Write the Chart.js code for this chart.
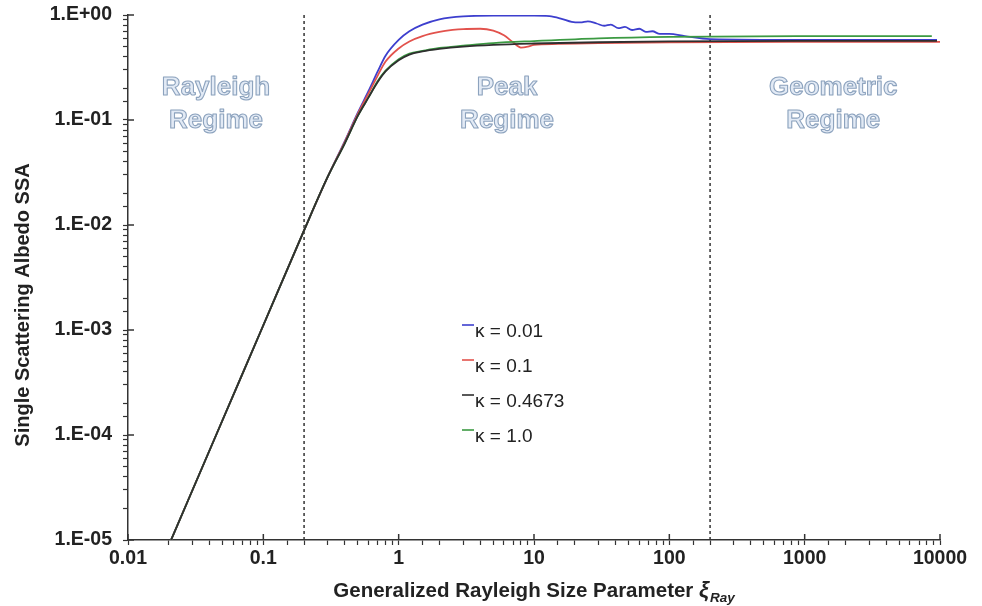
<!DOCTYPE html>
<html>
<head>
<meta charset="utf-8">
<script src="https://cdn.jsdelivr.net/npm/chart.js@4/dist/chart.umd.min.js"></script>
<style>
html,body{margin:0;padding:0;background:#fff;}
#wrap{width:982px;height:606px;position:relative;}
</style>
</head>
<body>
<div id="wrap"><canvas id="c" width="982" height="606"></canvas></div>
<script>
// ---- data ----
const xTickLabels = ['0.01','0.1','1','10','100','1000','10000'];
const yTickLabels = ['1.E-05','1.E-04','1.E-03','1.E-02','1.E-01','1.E+00'];
const regimeBounds = [0.2, 200];
const seriesLabels = ['\u03ba = 0.01','\u03ba = 0.1','\u03ba = 0.4673','\u03ba = 1.0'];
const yTitle = 'Single Scattering Albedo SSA';
const xTitle = 'Generalized Rayleigh Size Parameter ';

const xiK001 = [0.0208,0.05,0.1,0.2,0.3,0.4,0.5,0.6,0.7,0.8,1.0,1.2,1.5,2,3,5,10,13,16,19,22,25,29,33,37,42,47,53,60,67,75,85,100,130,200,1000,9500];
const ssaK001 = [1e-5,1.39e-4,1.11e-3,8.9e-3,0.029,0.063,0.118,0.19,0.29,0.41,0.58,0.70,0.81,0.91,0.97,0.985,0.985,0.975,0.92,0.86,0.85,0.87,0.83,0.79,0.81,0.75,0.77,0.72,0.74,0.69,0.70,0.66,0.66,0.63,0.59,0.58,0.58];

const xiK01 = [0.0208,0.05,0.1,0.2,0.3,0.4,0.5,0.6,0.7,0.8,1.0,1.2,1.5,2,2.5,3,4,5,6,7,8,9,10,15,30,100,1000,10000];
const ssaK01 = [1e-5,1.39e-4,1.11e-3,8.9e-3,0.029,0.062,0.115,0.18,0.265,0.36,0.48,0.56,0.63,0.69,0.72,0.735,0.74,0.71,0.64,0.55,0.49,0.50,0.52,0.53,0.54,0.55,0.555,0.555];

const xiK04673 = [0.0208,0.05,0.1,0.2,0.3,0.4,0.5,0.6,0.7,0.8,1.0,1.2,1.5,2,3,5,10,30,100,1000,9500];
const ssaK04673 = [1e-5,1.39e-4,1.11e-3,8.9e-3,0.029,0.06,0.11,0.165,0.23,0.29,0.37,0.42,0.45,0.475,0.50,0.52,0.535,0.55,0.56,0.567,0.567];

const xiK1 = [0.0208,0.05,0.1,0.2,0.3,0.4,0.5,0.6,0.7,0.8,1.0,1.2,1.5,2,3,5,10,30,100,1000,8700];
const ssaK1 = [1e-5,1.39e-4,1.11e-3,8.9e-3,0.029,0.06,0.11,0.165,0.235,0.295,0.38,0.43,0.455,0.485,0.51,0.54,0.565,0.60,0.62,0.63,0.63];

const colors = ['#3d3fce','#e2524c','#2f2f2f','#3b9a42'];

// ---- build datasets ----
const toPts = (xs, ys) => xs.map((x, i) => ({x: x, y: ys[i]}));
const seriesX = [xiK001, xiK01, xiK04673, xiK1];
const seriesY = [ssaK001, ssaK01, ssaK04673, ssaK1];
const datasets = [];
regimeBounds.forEach(b => {
  datasets.push({
    label: '_bound', data: [{x: b, y: 1e-5}, {x: b, y: 1}],
    borderColor: '#333', borderWidth: 1.5, borderDash: [3, 3],
    pointRadius: 0, fill: false, order: 10
  });
});
[2, 3, 1, 0].forEach(i => {
  datasets.push({
    label: seriesLabels[i], data: toPts(seriesX[i], seriesY[i]),
    borderColor: colors[i], backgroundColor: colors[i], borderWidth: 1.8,
    pointRadius: 0, fill: false, tension: 0.35, cubicInterpolationMode: 'monotone'
  });
});

const FONT = "'Liberation Sans', Arial, Helvetica, sans-serif";
const TICKFONT = 19.5;

function isPow10(v) {
  const l = Math.log10(v);
  return Math.abs(l - Math.round(l)) < 1e-9;
}

const overlay = {
  id: 'overlay',
  afterDatasetsDraw(chart) {
    const ctx = chart.ctx;
    const xs = chart.scales.x, ys = chart.scales.y;
    const ca = chart.chartArea;
    ctx.save();
    // major tick extensions into plot area
    ctx.strokeStyle = '#333'; ctx.lineWidth = 1.5;
    xTickLabels.forEach(t => {
      const px = xs.getPixelForValue(parseFloat(t));
      ctx.beginPath(); ctx.moveTo(px, ca.bottom); ctx.lineTo(px, ca.bottom - 6); ctx.stroke();
    });
    yTickLabels.forEach(t => {
      const v = Math.pow(10, parseInt(t.slice(3), 10));
      const py = ys.getPixelForValue(v);
      ctx.beginPath(); ctx.moveTo(ca.left, py); ctx.lineTo(ca.left + 6, py); ctx.stroke();
    });

    // regime labels
    const regimes = [
      {x: Math.sqrt(0.01 * regimeBounds[0]), l: ['Rayleigh', 'Regime']},
      {x: Math.sqrt(regimeBounds[0] * regimeBounds[1]), l: ['Peak', 'Regime']},
      {x: Math.sqrt(regimeBounds[1] * 10000) * 1.15, l: ['Geometric', 'Regime']}
    ];
    ctx.font = 'bold 26px ' + FONT;
    ctx.textAlign = 'center'; ctx.textBaseline = 'middle';
    ctx.lineJoin = 'round';
    regimes.forEach(r => {
      const px = xs.getPixelForValue(r.x);
      r.l.forEach((s, k) => {
        const py = ca.top + 73 + k * 33;
        ctx.fillStyle = '#e2eaf5';
        ctx.fillText(s, px, py);
        ctx.strokeStyle = '#8da3be'; ctx.lineWidth = 1.1;
        ctx.strokeText(s, px, py);
      });
    });

    // legend
    ctx.font = '19px ' + FONT;
    ctx.textAlign = 'left'; ctx.textBaseline = 'middle';
    const y0 = ys.getPixelForValue(1e-3);
    const y1 = ys.getPixelForValue(1e-4);
    const step = (y1 - y0) / 3;
    seriesLabels.forEach((lab, i) => {
      const py = y0 + i * step + 2;
      ctx.strokeStyle = colors[i]; ctx.lineWidth = 1.6;
      ctx.beginPath(); ctx.moveTo(462, py - 7); ctx.lineTo(474, py - 7); ctx.stroke();
      ctx.fillStyle = '#222';
      ctx.fillText(lab, 475, py);
    });

    // y-axis title
    ctx.save();
    ctx.font = 'bold 20px ' + FONT;
    ctx.fillStyle = '#222';
    ctx.textAlign = 'center'; ctx.textBaseline = 'middle';
    ctx.translate(23, 305);
    ctx.rotate(-Math.PI / 2);
    ctx.fillText(yTitle, 0, 0);
    ctx.restore();

    // x-axis title with italic xi and subscript
    const fMain = 'bold 20.5px ' + FONT;
    const fXi = 'italic bold 22px ' + FONT;
    const fSub = 'italic bold 13.5px ' + FONT;
    ctx.font = fMain; const w1 = ctx.measureText(xTitle).width;
    ctx.font = fXi; const w2 = ctx.measureText('\u03be').width;
    ctx.font = fSub; const w3 = ctx.measureText('Ray').width;
    const total = w1 + w2 + 1 + w3;
    let sx = (ca.left + ca.right) / 2 - total / 2;
    const ty = 597;
    ctx.fillStyle = '#222'; ctx.textBaseline = 'alphabetic'; ctx.textAlign = 'left';
    ctx.font = fMain; ctx.fillText(xTitle, sx, ty); sx += w1;
    ctx.font = fXi; ctx.fillText('\u03be', sx, ty); sx += w2 + 1;
    ctx.font = fSub; ctx.fillText('Ray', sx, ty + 5);
    ctx.restore();
  }
};

new Chart(document.getElementById('c'), {
  type: 'line',
  data: {datasets: datasets},
  plugins: [overlay],
  options: {
    responsive: false, animation: false,
    layout: {padding: {top: 15, right: 42, left: 0, bottom: 0}},
    plugins: {legend: {display: false}, tooltip: {enabled: false}},
    scales: {
      x: {
        type: 'logarithmic', min: 0.01, max: 10000,
        afterFit: s => { s.height = 66; s.paddingLeft = 0; s.paddingRight = 0; },
        border: {color: '#333', width: 1.5},
        grid: {drawOnChartArea: false, drawTicks: true, tickLength: 5, color: '#333', tickWidth: 1.2},
        ticks: {
          autoSkip: false, maxRotation: 0, padding: 2, color: '#222',
          font: {family: FONT, size: TICKFONT, weight: 'bold'},
          callback: v => isPow10(v) ? xTickLabels[Math.round(Math.log10(v)) + 2] : ''
        },
        title: {display: false}
      },
      y: {
        type: 'logarithmic', min: 1e-5, max: 1,
        afterFit: s => { s.width = 128; s.paddingTop = 0; s.paddingBottom = 0; },
        border: {color: '#333', width: 1.5},
        grid: {drawOnChartArea: false, drawTicks: true, tickLength: 5, color: '#333', tickWidth: 1.2},
        ticks: {
          autoSkip: false, padding: 11, color: '#222',
          font: {family: FONT, size: TICKFONT, weight: 'bold'},
          callback: v => isPow10(v) ? yTickLabels[Math.round(Math.log10(v)) + 5] : ''
        },
        title: {display: false}
      }
    }
  }
});
</script>
</body>
</html>
